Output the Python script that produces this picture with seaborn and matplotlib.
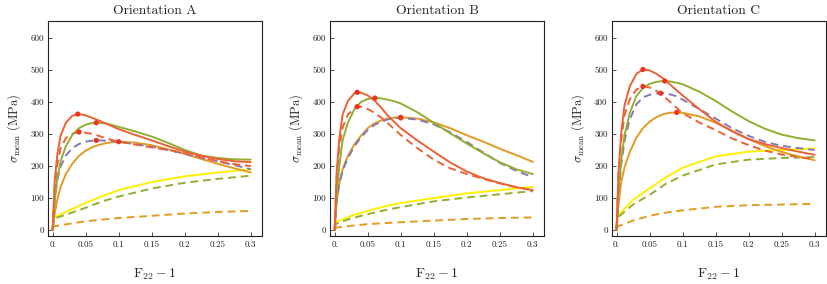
import numpy as np
import pandas as pd
import matplotlib
matplotlib.use("Agg")
import matplotlib.pyplot as plt
import seaborn as sns

# strain grid for the peaked curves and a coarse grid for the rising ones
x_peak = [0, 0.003, 0.007, 0.012, 0.02, 0.03, 0.04, 0.05, 0.06, 0.07, 0.08,
          0.09, 0.1, 0.125, 0.15, 0.175, 0.2, 0.225, 0.25, 0.275, 0.3]
x_rise = [0, 0.002, 0.025, 0.05, 0.075, 0.1, 0.15, 0.2, 0.25, 0.3]

panels = ["Orientation A", "Orientation B", "Orientation C"]

# ---- Orientation A ----
a_red = [0, 150, 235, 295, 335, 357, 362, 358, 350, 342, 333, 324, 315, 297, 280, 262, 245, 232, 222, 215, 212]
a_green = [0, 90, 160, 215, 262, 298, 318, 329, 334, 335, 333, 328, 322, 308, 292, 272, 250, 233, 225, 221, 220]
a_red_d = [0, 130, 205, 255, 287, 301, 306, 304, 300, 294, 287, 281, 276, 267, 258, 250, 240, 227, 215, 206, 200]
a_purple = [0, 90, 155, 198, 233, 256, 269, 276, 279, 280, 279, 278, 276, 268, 260, 250, 238, 226, 215, 203, 190]
a_orange = [0, 50, 95, 135, 175, 208, 232, 248, 259, 266, 271, 274, 276, 273, 265, 252, 238, 222, 207, 193, 180]
a_yellow = [5, 40, 62, 85, 106, 125, 150, 168, 180, 190]
a_green_d = [5, 36, 52, 70, 90, 105, 130, 148, 160, 170]
a_orange_d = [5, 12, 20, 28, 33, 38, 45, 52, 57, 60]

# ---- Orientation B ----
b_red = [0, 180, 285, 360, 403, 427, 429, 420, 405, 383, 358, 338, 318, 280, 245, 211, 183, 162, 147, 134, 125]
b_green = [0, 110, 200, 280, 335, 378, 400, 409, 412, 411, 407, 402, 395, 368, 335, 302, 270, 240, 212, 190, 175]
b_red_d = [0, 160, 258, 320, 360, 381, 385, 378, 366, 352, 335, 315, 297, 256, 220, 193, 175, 160, 146, 134, 125]
b_purple = [0, 90, 145, 185, 225, 262, 290, 312, 328, 338, 345, 349, 350, 345, 330, 305, 275, 242, 210, 185, 165]
b_orange = [0, 90, 145, 190, 232, 268, 295, 318, 333, 342, 348, 351, 352, 348, 336, 318, 296, 276, 254, 234, 213]
b_yellow = [5, 25, 45, 60, 74, 85, 100, 115, 125, 135]
b_green_d = [5, 20, 37, 50, 62, 72, 90, 102, 112, 122]
b_orange_d = [5, 8, 14, 19, 22, 25, 30, 35, 38, 40]

# ---- Orientation C ----
c_red = [0, 180, 300, 388, 448, 487, 501, 498, 488, 474, 456, 438, 420, 378, 338, 308, 284, 268, 256, 245, 235]
c_green = [0, 120, 215, 295, 365, 418, 443, 456, 462, 465, 464, 460, 455, 432, 403, 370, 340, 316, 298, 287, 280]
c_red_d = [0, 170, 278, 358, 408, 438, 448, 445, 435, 420, 402, 383, 365, 336, 312, 286, 265, 248, 236, 228, 222]
c_purple = [0, 110, 200, 278, 345, 392, 414, 422, 426, 427, 424, 418, 407, 378, 348, 318, 294, 275, 263, 256, 250]
c_orange = [0, 80, 148, 195, 243, 288, 318, 338, 352, 361, 366, 367, 366, 355, 335, 310, 284, 262, 244, 230, 218]
c_yellow = [5, 45, 95, 130, 165, 195, 230, 245, 250, 255]
c_green_d = [5, 40, 80, 110, 145, 170, 205, 220, 225, 228]
c_orange_d = [5, 12, 30, 45, 55, 62, 73, 78, 80, 82]

peak_data = [
    [a_red, a_green, a_red_d, a_purple, a_orange],
    [b_red, b_green, b_red_d, b_purple, b_orange],
    [c_red, c_green, c_red_d, c_purple, c_orange],
]
rise_data = [
    [a_yellow, a_green_d, a_orange_d],
    [b_yellow, b_green_d, b_orange_d],
    [c_yellow, c_green_d, c_orange_d],
]
# peak markers (strain, stress)
marks_x = [[0.038, 0.066, 0.04, 0.066, 0.1],
           [0.034, 0.061, 0.034, 0.1, 0.1],
           [0.04, 0.073, 0.04, 0.067, 0.091]]
marks_y = [[362, 335, 306, 280, 276],
           [430, 412, 385, 350, 352],
           [501, 465, 448, 427, 367]]

peak_names = ["red", "green", "red_d", "purple", "orange"]
rise_names = ["yellow", "green_d", "orange_d"]
palette = {"red": "#EB6235", "green": "#8FB032", "red_d": "#EB6235",
           "purple": "#8778B3", "orange": "#E19C24", "yellow": "#FFF000",
           "green_d": "#8FB032", "orange_d": "#E19C24"}
dashes = {"red": "", "green": "", "red_d": (4, 2.5), "purple": (4, 2.5),
          "orange": "", "yellow": "", "green_d": (4, 2.5), "orange_d": (4, 2.5)}

sns.set_style("ticks")
plt.rcParams["font.family"] = ["cmr10", "DejaVu Serif"]
plt.rcParams["mathtext.fontset"] = "cm"
plt.rcParams["axes.unicode_minus"] = False

fig = plt.figure(figsize=(8.28, 2.84), dpi=100)
lefts = [0.058, 0.3986, 0.739]

for i in range(3):
    ax = fig.add_axes([lefts[i], 0.169, 0.2585, 0.757])
    rows = []
    for name, ys in zip(peak_names, peak_data[i]):
        for xv, yv in zip(x_peak, ys):
            rows.append((name, xv, yv))
    for name, ys in zip(rise_names, rise_data[i]):
        for xv, yv in zip(x_rise, ys):
            rows.append((name, xv, yv))
    df = pd.DataFrame(rows, columns=["curve", "strain", "stress"])
    order = ["yellow", "green_d", "orange_d", "orange", "purple", "red_d", "green", "red"]
    sns.lineplot(data=df, x="strain", y="stress", hue="curve", style="curve",
                 hue_order=order, style_order=order, palette=palette,
                 dashes=dashes, sort=False, estimator=None, legend=False,
                 linewidth=1.4, ax=ax)
    sns.scatterplot(x=marks_x[i], y=marks_y[i], color="#F2301E", s=14,
                    edgecolor="none", zorder=5, ax=ax)

    ax.set_xlim(-0.007, 0.317)
    ax.set_ylim(-18, 652)
    ax.set_xticks([0, 0.05, 0.1, 0.15, 0.2, 0.25, 0.3])
    ax.set_xticklabels(["0.", "0.05", "0.1", "0.15", "0.2", "0.25", "0.3"])
    ax.set_yticks([0, 100, 200, 300, 400, 500, 600])
    ax.set_yticklabels(["0", "100", "200", "300", "400", "500", "600"])
    ax.tick_params(direction="in", length=3, width=0.6, labelsize=6.5,
                   pad=3, colors="#333333", labelcolor="#222222")
    for s in ax.spines.values():
        s.set_linewidth(0.8)
        s.set_color("#222222")
    ax.set_title(panels[i], fontsize=9.8, pad=5)
    ax.set_xlabel(r"$\mathrm{F}_{22}-1$", fontsize=10, labelpad=13)
    ax.set_ylabel(r"$\sigma_{\mathrm{mean}}$ (MPa)", fontsize=9, labelpad=5)

fig.savefig("out.png", dpi=100)
